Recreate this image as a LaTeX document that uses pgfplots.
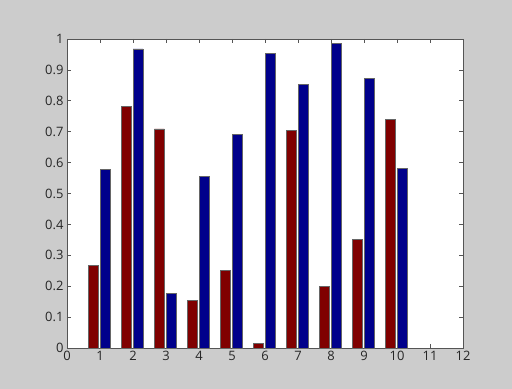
\documentclass[border=0pt]{standalone}
\usepackage{pgfplots}
\pgfplotsset{compat=1.18}
\usepackage{fontspec}
\setmainfont{Open Sans}
\usetikzlibrary{backgrounds,calc}
\definecolor{bgc}{RGB}{204,204,204}
\definecolor{dred}{RGB}{128,0,0}
\definecolor{dblue}{RGB}{0,0,139}
\definecolor{spine}{RGB}{85,85,85}
\pgfplotstableread{
x red blue
1 0.267 0.579
2 0.783 0.968
3 0.709 0.177
4 0.153 0.555
5 0.251 0.692
6 0.016 0.954
7 0.705 0.854
8 0.200 0.985
9 0.351 0.872
10 0.741 0.580
}\datatab
\begin{document}
\fontsize{13}{15}\selectfont
\begin{tikzpicture}
\begin{axis}[
  name=ax,
  scale only axis,
  width=396bp, height=309bp,
  xmin=0, xmax=12, ymin=0, ymax=1,
  xtick={0,1,...,12},
  ytick={0,0.1,...,1.0},
  yticklabels={0,0.1,0.2,0.3,0.4,0.5,0.6,0.7,0.8,0.9,1},
  /pgf/number format/assume math mode=true,
  tick label style={font=\fontsize{13}{15}\selectfont, text=black!85},
  tick align=inside,
  tick pos=both,
  major tick length=4bp,
  every tick/.style={spine, line width=0.6bp},
  axis line style={spine, line width=0.8bp},
  axis background/.style={fill=white},
  xticklabel style={yshift=1bp},
  yticklabel style={xshift=1bp},
]
\addplot[ybar, bar width=0.3, bar shift=-0.2, fill=dred, draw=black!60, line width=0.6bp] table[x=x, y=red] {\datatab};
\addplot[ybar, bar width=0.3, bar shift=0.15, fill=dblue, draw=black!60, line width=0.6bp] table[x=x, y=blue] {\datatab};
\end{axis}
\begin{scope}[on background layer]
\fill[bgc] ($(ax.south west)+(-67bp,-41bp)$) rectangle ($(ax.north east)+(49bp,39bp)$);
\end{scope}
\end{tikzpicture}
\end{document}
